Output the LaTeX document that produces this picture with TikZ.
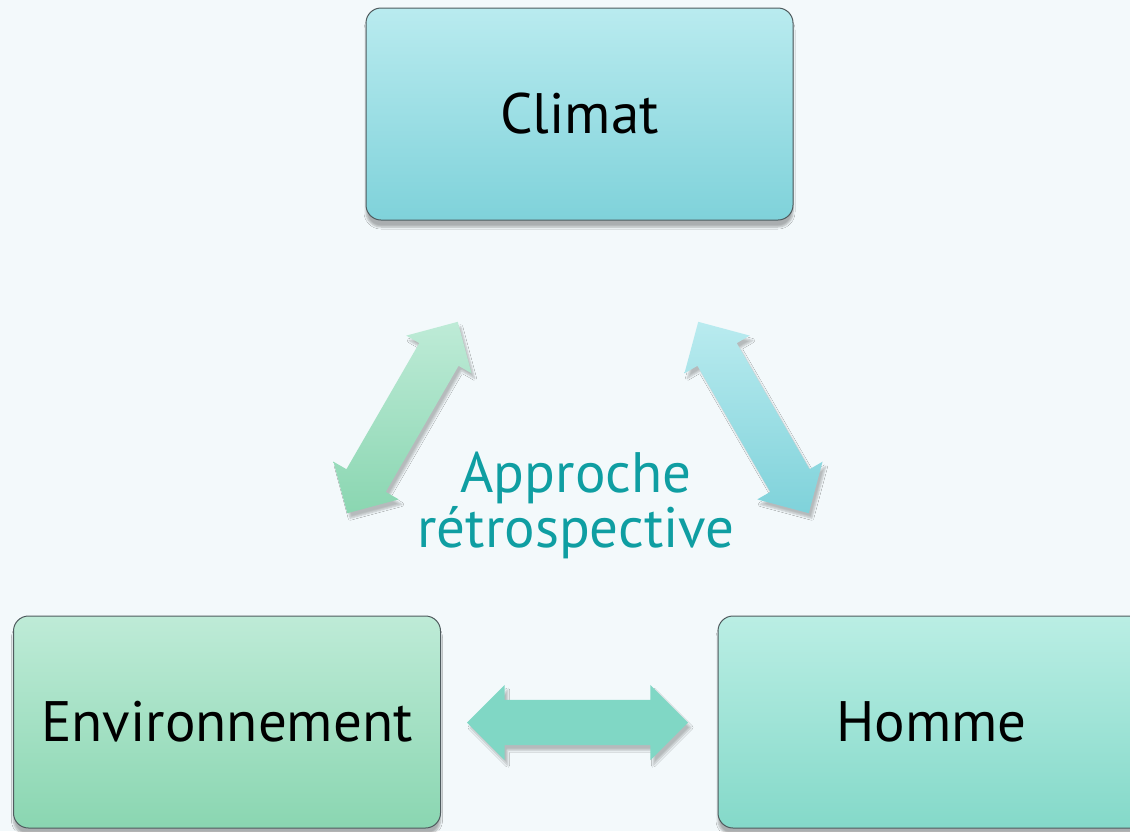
\documentclass[tikz,border=0pt]{standalone}
\usepackage{fontspec}
\setmainfont{PT Sans}
\usetikzlibrary{shapes.arrows,shadows.blur}

\definecolor{fond}{HTML}{F3F9FB}
\definecolor{climhaut}{HTML}{B9EBEF}
\definecolor{climbas}{HTML}{7FD2DA}
\definecolor{envhaut}{HTML}{BEEBD7}
\definecolor{envbas}{HTML}{8AD6B1}
\definecolor{homhaut}{HTML}{BAEEE4}
\definecolor{hombas}{HTML}{84D9C9}
\definecolor{flechemil}{HTML}{80D7C5}
\definecolor{sarcelle}{HTML}{0F9EA2}
\definecolor{bord}{HTML}{4F5B5E}

\tikzset{
  boite/.style={draw=bord, line width=1pt, rounded corners=15pt,
    minimum width=427pt, minimum height=212pt,
    font=\fontsize{57}{60}\selectfont,
    blur shadow={shadow xshift=0pt, shadow yshift=-7pt, shadow blur steps=6, shadow opacity=30}},
  fleche/.style={double arrow, double arrow head extend=15pt,
    minimum height=221pt, inner sep=22.5pt,
    blur shadow={shadow xshift=3pt, shadow yshift=-5pt, shadow blur steps=5, shadow opacity=25}}
}

\begin{document}
\begin{tikzpicture}[x=1pt,y=-1pt]
\useasboundingbox (0,0) rectangle (1130,831);
\clip (0,0) rectangle (1130,831);
% fond
\fill[fond] (0,0) rectangle (1130,831);

% Les trois boites
\node[boite, top color=climhaut, bottom color=climbas] (climat) at (579.5,114) {Climat};
\node[boite, top color=envhaut, bottom color=envbas] (env) at (227,722) {Environnement};
\node[boite, top color=homhaut, bottom color=hombas] (homme) at (931.5,722) {Homme};

% Les fleches doubles
\node[fleche, rotate=60, top color=envhaut, bottom color=envbas] (ce) at (402.5,417.5) {};
\node[fleche, rotate=-60, top color=climhaut, bottom color=climbas] (ch) at (753.5,417.5) {};
\node[fleche, fill=flechemil] (eh) at (577.5,722.5) {};

% Texte central
\node[text=sarcelle, align=center, font=\fontsize{57}{55}\selectfont] (approche) at (576,505) {Approche\\rétrospective};
\end{tikzpicture}
\end{document}
